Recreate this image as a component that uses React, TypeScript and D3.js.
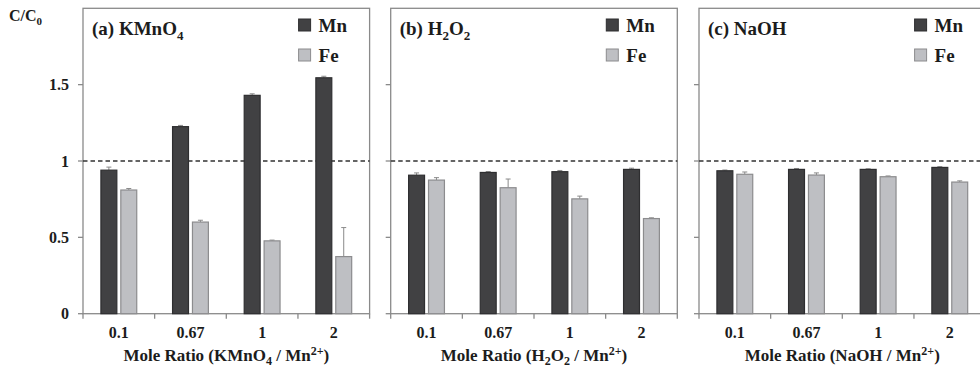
import React, { useEffect, useRef } from 'react';
import * as d3 from 'd3';

// Mole ratio categories and series
const categories = ['0.1', '0.67', '1', '2'];
const seriesNames = ['Mn', 'Fe'];
const yTicks = [0, 0.5, 1, 1.5];
const yTickLabels = ['0', '0.5', '1', '1.5'];

// (a) KMnO4
const kmno4Mn = [0.94, 1.225, 1.43, 1.545];
const kmno4MnErr = [0.02, 0.008, 0.01, 0.01];
const kmno4Fe = [0.81, 0.6, 0.477, 0.374];
const kmno4FeErr = [0.01, 0.012, 0.005, 0.19];

// (b) H2O2
const h2o2Mn = [0.907, 0.925, 0.93, 0.945];
const h2o2MnErr = [0.015, 0.006, 0.008, 0.008];
const h2o2Fe = [0.875, 0.825, 0.752, 0.623];
const h2o2FeErr = [0.016, 0.057, 0.018, 0.005];

// (c) NaOH
const naohMn = [0.936, 0.945, 0.945, 0.958];
const naohMnErr = [0.005, 0.006, 0.004, 0.005];
const naohFe = [0.913, 0.908, 0.897, 0.862];
const naohFeErr = [0.015, 0.014, 0.005, 0.008];

type Seg = { t: string; sub?: boolean; sup?: boolean };

interface Panel {
  title: Seg[];
  axisTitle: Seg[];
  values: number[][];
  errors: number[][];
}

const panels: Panel[] = [
  {
    title: [{ t: '(a) KMnO' }, { t: '4', sub: true }],
    axisTitle: [{ t: 'Mole Ratio (KMnO' }, { t: '4', sub: true }, { t: ' / Mn' }, { t: '2+', sup: true }, { t: ')' }],
    values: [kmno4Mn, kmno4Fe],
    errors: [kmno4MnErr, kmno4FeErr],
  },
  {
    title: [{ t: '(b) H' }, { t: '2', sub: true }, { t: 'O' }, { t: '2', sub: true }],
    axisTitle: [{ t: 'Mole Ratio (H' }, { t: '2', sub: true }, { t: 'O' }, { t: '2', sub: true }, { t: ' / Mn' }, { t: '2+', sup: true }, { t: ')' }],
    values: [h2o2Mn, h2o2Fe],
    errors: [h2o2MnErr, h2o2FeErr],
  },
  {
    title: [{ t: '(c) NaOH' }],
    axisTitle: [{ t: 'Mole Ratio (NaOH / Mn' }, { t: '2+', sup: true }, { t: ')' }],
    values: [naohMn, naohFe],
    errors: [naohMnErr, naohFeErr],
  },
];

const WIDTH = 980;
const HEIGHT = 372;
const COLORS = ['#414143', '#bebfc3'];
const STROKES = ['#2e2e30', '#8c8c8e'];
const FRAME = '#8a8a8a';
const TEXT = '#1c1c1c';
const FONT = 'Liberation Serif, DejaVu Serif, serif';

// write segments with sub/superscripts into a text element
function writeSegs(text: d3.Selection<SVGTextElement, unknown, null, undefined>, segs: Seg[], base: number) {
  let shift = 0;
  segs.forEach(s => {
    const target = s.sub ? base * 0.25 : s.sup ? -base * 0.38 : 0;
    text.append('tspan')
      .attr('dy', target - shift)
      .attr('font-size', s.sub || s.sup ? Math.round(base * 0.68) : base)
      .text(s.t);
    shift = target;
  });
}

export default function App() {
  const svgRef = useRef<SVGSVGElement>(null);

  useEffect(() => {
    const svgElement = svgRef.current;
    if (!svgElement) return;
    const svg = d3.select(svgElement);
    svg.selectAll('*').remove();

    const top = 8.3;
    const bottom = 313.7;
    const panelLefts = [83, 390.7, 699];
    const panelWidth = 286.6;

    const yScale = d3.scaleLinear().domain([0, 2]).range([bottom, top]);

    svg.append('text')
      .attr('x', 9)
      .attr('y', 21)
      .attr('fill', TEXT)
      .call(t => writeSegs(t, [{ t: 'C/C' }, { t: '0', sub: true }], 16));

    panels.forEach((panel, pi) => {
      const left = panelLefts[pi];
      const g = svg.append('g').attr('transform', `translate(${left}, 0)`);

      const xScale = d3.scaleBand<string>()
        .domain(categories)
        .range([0, panelWidth]);
      const bw = xScale.bandwidth();
      const inner = d3.scaleBand<string>()
        .domain(seriesNames)
        .range([bw * 0.25, bw * 0.75])
        .paddingInner(0.2);

      // plot frame
      g.append('rect')
        .attr('x', 0)
        .attr('y', top)
        .attr('width', panelWidth)
        .attr('height', bottom - top)
        .attr('fill', 'none')
        .attr('stroke', FRAME)
        .attr('stroke-width', 1.3);

      // y ticks
      g.selectAll('.ytick')
        .data(yTicks)
        .enter()
        .append('line')
        .attr('x1', -5)
        .attr('x2', 0)
        .attr('y1', d => yScale(d))
        .attr('y2', d => yScale(d))
        .attr('stroke', FRAME)
        .attr('stroke-width', 1.3);

      // x ticks at category boundaries
      const bounds = categories.map(c => xScale(c) as number).concat([panelWidth]);
      g.selectAll('.xtick')
        .data(bounds)
        .enter()
        .append('line')
        .attr('x1', d => d)
        .attr('x2', d => d)
        .attr('y1', bottom)
        .attr('y2', bottom + 5)
        .attr('stroke', FRAME)
        .attr('stroke-width', 1.3);

      if (pi === 0) {
        g.selectAll('.ylabel')
          .data(yTicks)
          .enter()
          .append('text')
          .attr('x', -14)
          .attr('y', d => yScale(d))
          .attr('dy', '0.35em')
          .attr('text-anchor', 'end')
          .attr('font-size', 16)
          .attr('fill', TEXT)
          .text((_, i) => yTickLabels[i]);
      }

      // reference line at C/C0 = 1
      g.append('line')
        .attr('x1', 0)
        .attr('x2', panelWidth)
        .attr('y1', yScale(1))
        .attr('y2', yScale(1))
        .attr('stroke', '#333')
        .attr('stroke-width', 1.3)
        .attr('stroke-dasharray', '4.5,3');

      // bars and error bars
      seriesNames.forEach((name, si) => {
        const vals = panel.values[si];
        const errs = panel.errors[si];
        const bx = (i: number) => (xScale(categories[i]) as number) + (inner(name) as number);
        const ibw = inner.bandwidth();

        g.selectAll(`.err-${name}`)
          .data(vals)
          .enter()
          .append('path')
          .attr('d', (d, i) => {
            const cx = bx(i) + ibw / 2;
            const y0 = yScale(d);
            const y1 = yScale(d + errs[i]);
            return `M${cx},${y0}V${y1}M${cx - 2.5},${y1}H${cx + 2.5}`;
          })
          .attr('fill', 'none')
          .attr('stroke', '#8a8a8a')
          .attr('stroke-width', 1);

        g.selectAll(`.bar-${name}`)
          .data(vals)
          .enter()
          .append('rect')
          .attr('x', (_, i) => bx(i))
          .attr('y', d => yScale(d))
          .attr('width', ibw)
          .attr('height', d => bottom - yScale(d))
          .attr('fill', COLORS[si])
          .attr('stroke', STROKES[si])
          .attr('stroke-width', 1.2);
      });

      // category labels
      g.selectAll('.xlabel')
        .data(categories)
        .enter()
        .append('text')
        .attr('x', d => (xScale(d) as number) + bw / 2)
        .attr('y', 338)
        .attr('text-anchor', 'middle')
        .attr('font-size', 16)
        .attr('fill', TEXT)
        .text(d => d);

      // axis title
      g.append('text')
        .attr('x', panelWidth / 2)
        .attr('y', 361)
        .attr('text-anchor', 'middle')
        .attr('fill', TEXT)
        .call(t => writeSegs(t, panel.axisTitle, 17));

      // panel title
      g.append('text')
        .attr('x', 9)
        .attr('y', 35)
        .attr('fill', TEXT)
        .call(t => writeSegs(t, panel.title, 19));

      // legend
      const legend = g.append('g').attr('transform', `translate(${panelWidth - 71}, 19)`);
      seriesNames.forEach((name, si) => {
        legend.append('rect')
          .attr('x', 0)
          .attr('y', si * 30)
          .attr('width', 12)
          .attr('height', 12)
          .attr('fill', COLORS[si])
          .attr('stroke', STROKES[si])
          .attr('stroke-width', 1);
        legend.append('text')
          .attr('x', 20)
          .attr('y', si * 30 + 13)
          .attr('font-size', 19)
          .attr('fill', TEXT)
          .text(name);
      });
    });
  }, []);

  return (
    <div style={{ position: 'absolute', left: 0, top: 0, width: WIDTH, height: HEIGHT, overflow: 'hidden', background: '#fff' }}>
      <svg
        ref={svgRef}
        width={WIDTH}
        height={HEIGHT}
        fontFamily={FONT}
        fontWeight="bold"
        style={{ display: 'block' }}
      />
    </div>
  );
}
